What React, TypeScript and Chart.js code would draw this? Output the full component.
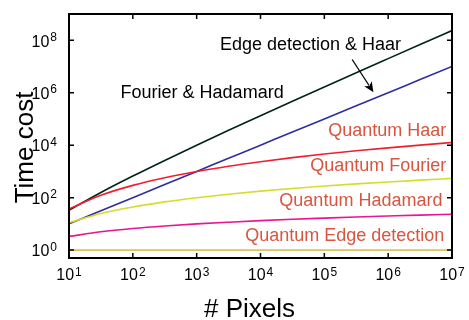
import React, { useEffect, useRef } from "react";
import { Chart, registerables } from "chart.js";

Chart.register(...registerables);

// ---- data ----
const pixels = [10, 31.6, 100, 316, 1000, 3162, 1e4, 31623, 1e5, 316228, 1e6, 3162278, 1e7];
const fourierHadamard = [33, 157, 664, 2625, 9966, 36780, 132900, 472800, 1.66e6, 5.78e6, 1.99e7, 6.83e7, 2.33e8];
const edgeHaar = [10, 31.6, 100, 316, 1000, 3162, 1e4, 31623, 1e5, 316228, 1e6, 3162278, 1e7];
const quantumHaar = [37, 123, 293, 572, 990, 1573, 2347, 3341, 4583, 6098, 7917, 10064, 12568];
const quantumFourier = [11, 24.8, 44.1, 68.9, 99.3, 135, 177, 224, 276, 334, 397, 466, 541];
const quantumHadamard = [3.32, 4.98, 6.64, 8.3, 9.97, 11.6, 13.3, 15, 16.6, 18.3, 19.9, 21.6, 23.3];
const quantumEdge = [1, 1, 1, 1, 1, 1, 1, 1, 1, 1, 1, 1, 1];

const xTickExps = [1, 2, 3, 4, 5, 6, 7];
const yTickExps = [0, 2, 4, 6, 8];

const xTitle = "# Pixels";
const yTitle = "Time cost";

const labelColor = "#d9553f";
const annotations = [
  { text: "Edge detection & Haar", x: 10 ** 4.784, y: 10 ** 7.646, align: "center", color: "#000000" },
  { text: "Fourier & Hadamard", x: 10 ** 1.808, y: 10 ** 5.806, align: "left", color: "#000000" },
  { text: "Quantum Haar", x: 10 ** 6.911, y: 10 ** 4.35, align: "right", color: labelColor },
  { text: "Quantum Fourier", x: 10 ** 6.911, y: 10 ** 3.01, align: "right", color: labelColor },
  { text: "Quantum Hadamard", x: 10 ** 6.85, y: 10 ** 1.676, align: "right", color: labelColor },
  { text: "Quantum Edge detection", x: 10 ** 6.88, y: 10 ** 0.343, align: "right", color: labelColor },
];
const arrow = { x0: 10 ** 5.436, y0: 10 ** 7.265, x1: 10 ** 5.769, y1: 10 ** 6.019 };

const FONT = "'Liberation Sans', Arial, Helvetica, sans-serif";

const pts = (ys: number[]) => pixels.map((x, i) => ({ x, y: ys[i] }));

const decorPlugin = {
  id: "decor",
  afterDraw(chart: any) {
    const { ctx, chartArea: a, scales } = chart;
    const xs = scales.x;
    const ys = scales.y;
    ctx.save();
    ctx.strokeStyle = "#000";
    ctx.fillStyle = "#000";
    // ticks inside
    ctx.lineWidth = 1.5;
    const tl = 5;
    xTickExps.forEach((e) => {
      const px = xs.getPixelForValue(10 ** e);
      ctx.beginPath();
      ctx.moveTo(px, a.bottom);
      ctx.lineTo(px, a.bottom - tl);
      ctx.moveTo(px, a.top);
      ctx.lineTo(px, a.top + tl);
      ctx.stroke();
    });
    yTickExps.forEach((e) => {
      const py = ys.getPixelForValue(10 ** e);
      ctx.beginPath();
      ctx.moveTo(a.left, py);
      ctx.lineTo(a.left + tl, py);
      ctx.moveTo(a.right, py);
      ctx.lineTo(a.right - tl, py);
      ctx.stroke();
    });
    // box
    ctx.lineWidth = 2;
    ctx.strokeRect(a.left, a.top, a.right - a.left, a.bottom - a.top);

    // tick labels
    const baseFont = `16px ${FONT}`;
    const expFont = `12px ${FONT}`;
    ctx.textBaseline = "alphabetic";
    ctx.textAlign = "left";
    xTickExps.forEach((e) => {
      const px = xs.getPixelForValue(10 ** e);
      ctx.font = baseFont;
      const w1 = ctx.measureText("10").width;
      ctx.font = expFont;
      const w2 = ctx.measureText(String(e)).width;
      const start = px - (w1 + w2 + 1) / 2;
      ctx.font = baseFont;
      ctx.fillText("10", start, a.bottom + 21.5);
      ctx.font = expFont;
      ctx.fillText(String(e), start + w1 + 1, a.bottom + 17.5);
    });
    yTickExps.forEach((e) => {
      const py = ys.getPixelForValue(10 ** e);
      ctx.font = baseFont;
      const w1 = ctx.measureText("10").width;
      ctx.font = expFont;
      const w2 = ctx.measureText(String(e)).width;
      const end = a.left - 12;
      const start = end - w1 - w2 - 1;
      ctx.font = baseFont;
      ctx.fillText("10", start, py + 6.3);
      ctx.font = expFont;
      ctx.fillText(String(e), start + w1 + 1, py + 0.5);
    });

    // axis titles
    ctx.font = `26px ${FONT}`;
    ctx.textAlign = "center";
    ctx.fillText(xTitle, (a.left + a.right) / 2 - 11, 316.5);
    ctx.save();
    ctx.translate(33.3, 147.5);
    ctx.rotate(-Math.PI / 2);
    ctx.fillText(yTitle, 0, 0);
    ctx.restore();

    // annotations
    ctx.font = `18px ${FONT}`;
    annotations.forEach((an) => {
      ctx.fillStyle = an.color;
      ctx.textAlign = an.align as CanvasTextAlign;
      ctx.fillText(an.text, xs.getPixelForValue(an.x), ys.getPixelForValue(an.y));
    });

    // arrow
    const x0 = xs.getPixelForValue(arrow.x0);
    const y0 = ys.getPixelForValue(arrow.y0);
    const x1 = xs.getPixelForValue(arrow.x1);
    const y1 = ys.getPixelForValue(arrow.y1);
    const ang = Math.atan2(y1 - y0, x1 - x0);
    const hl = 10;
    const hw = 4.5;
    ctx.strokeStyle = "#000";
    ctx.fillStyle = "#000";
    ctx.lineWidth = 1.3;
    ctx.beginPath();
    ctx.moveTo(x0, y0);
    ctx.lineTo(x1 - Math.cos(ang) * hl * 0.8, y1 - Math.sin(ang) * hl * 0.8);
    ctx.stroke();
    ctx.beginPath();
    ctx.moveTo(x1, y1);
    ctx.lineTo(x1 - Math.cos(ang) * hl - Math.sin(ang) * hw, y1 - Math.sin(ang) * hl + Math.cos(ang) * hw);
    ctx.lineTo(x1 - Math.cos(ang) * hl * 0.75, y1 - Math.sin(ang) * hl * 0.75);
    ctx.lineTo(x1 - Math.cos(ang) * hl + Math.sin(ang) * hw, y1 - Math.sin(ang) * hl - Math.cos(ang) * hw);
    ctx.closePath();
    ctx.fill();
    ctx.restore();
  },
};

export default function App() {
  const ref = useRef<HTMLCanvasElement | null>(null);
  useEffect(() => {
    document.body.style.margin = "0";
    const canvas = ref.current;
    if (!canvas) return;
    const ds = (label: string, data: number[], color: string) => ({
      label,
      data: pts(data),
      borderColor: color,
      backgroundColor: color,
      borderWidth: 1.6,
      pointRadius: 0,
      cubicInterpolationMode: "monotone" as const,
      fill: false,
    });
    const chart = new Chart(canvas, {
      type: "line",
      data: {
        datasets: [
          ds("Quantum Edge detection", quantumEdge, "#d6c462"),
          ds("Quantum Hadamard", quantumHadamard, "#e8168f"),
          ds("Quantum Fourier", quantumFourier, "#d6dc2c"),
          ds("Quantum Haar", quantumHaar, "#ee2030"),
          ds("Edge detection & Haar", edgeHaar, "#2e2e9c"),
          ds("Fourier & Hadamard", fourierHadamard, "#002414"),
        ],
      },
      options: {
        animation: false,
        responsive: false,
        devicePixelRatio: 1,
        layout: { padding: { left: 69, right: 17, top: 14, bottom: 62 } },
        plugins: { legend: { display: false }, tooltip: { enabled: false } },
        scales: {
          x: {
            type: "logarithmic",
            display: false,
            min: 10,
            max: 1e7,
          },
          y: {
            type: "logarithmic",
            display: false,
            min: 0.5,
            max: 1e9,
          },
        },
      },
      plugins: [decorPlugin],
    });
    return () => chart.destroy();
  }, []);
  return (
    <div style={{ width: 469, height: 320, background: "#fff" }}>
      <canvas ref={ref} width={469} height={320} style={{ display: "block" }} />
    </div>
  );
}
